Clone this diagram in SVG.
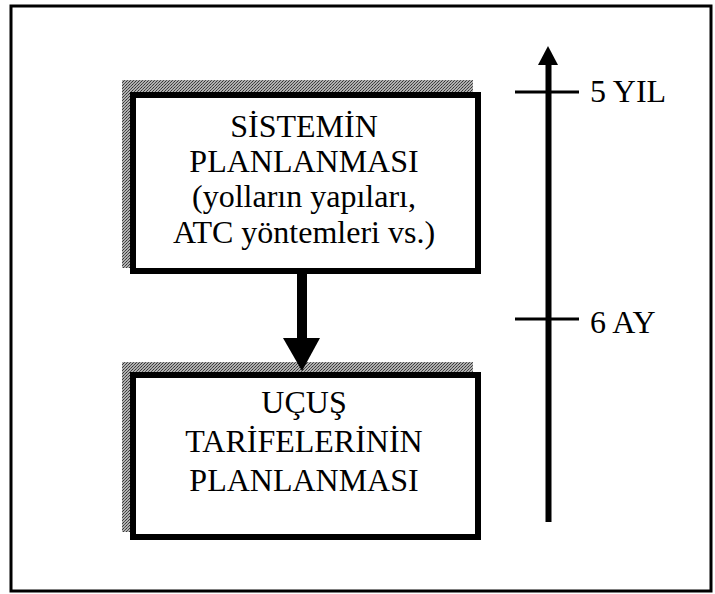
<svg xmlns="http://www.w3.org/2000/svg" width="715" height="594" viewBox="0 0 715 594">
<defs>
<pattern id="dither" width="3" height="3" patternUnits="userSpaceOnUse">
<rect width="3" height="3" fill="#b0b0b0"/>
<rect x="0" y="0" width="1" height="1" fill="#333"/>
<rect x="2" y="1" width="1" height="1" fill="#444"/>
<rect x="1" y="2" width="1" height="1" fill="#555"/>
</pattern>
</defs>
<style>
.t{font-family:"Liberation Serif","Times New Roman",serif;font-size:32px;fill:#000}
.c{text-anchor:middle}
.box{fill:#fff;stroke:#000;stroke-width:6}
.sh{fill:url(#dither)}
</style>
<rect width="715" height="594" fill="#fff"/>
<rect x="11" y="6" width="700" height="585" fill="none" stroke="#000" stroke-width="3"/>
<g id="node-sistem">
<rect class="sh" x="122" y="80" width="351" height="188"/>
<rect class="box" x="133" y="95" width="345" height="176"/>
<text class="t c" x="304" y="137">SİSTEMİN</text>
<text class="t c" x="304" y="172">PLANLANMASI</text>
<text class="t c" x="304" y="207">(yolların yapıları,</text>
<text class="t c" x="304" y="243">ATC yöntemleri vs.)</text>
</g>
<g id="node-ucus">
<rect class="sh" x="122" y="362" width="351" height="170"/>
<rect class="box" x="133" y="375" width="345" height="162"/>
<text class="t c" x="304" y="413">UÇUŞ</text>
<text class="t c" x="304" y="452">TARİFELERİNİN</text>
<text class="t c" x="304" y="491">PLANLANMASI</text>
</g>
<g id="connectors">
<rect x="297" y="274" width="10" height="66" fill="#000"/>
<polygon points="283,338 320,338 302,371" fill="#000"/>
</g>
<g id="timeline">
<line x1="548.5" y1="60" x2="548.5" y2="522" stroke="#000" stroke-width="6"/>
<polygon points="538,65 558,65 548,46" fill="#000"/>
<line x1="515" y1="92" x2="579" y2="92" stroke="#000" stroke-width="3"/>
<line x1="515" y1="319" x2="579" y2="319" stroke="#000" stroke-width="3"/>
<text class="t" x="590" y="102">5 YIL</text>
<text class="t" x="590" y="333">6 AY</text>
</g>
</svg>
